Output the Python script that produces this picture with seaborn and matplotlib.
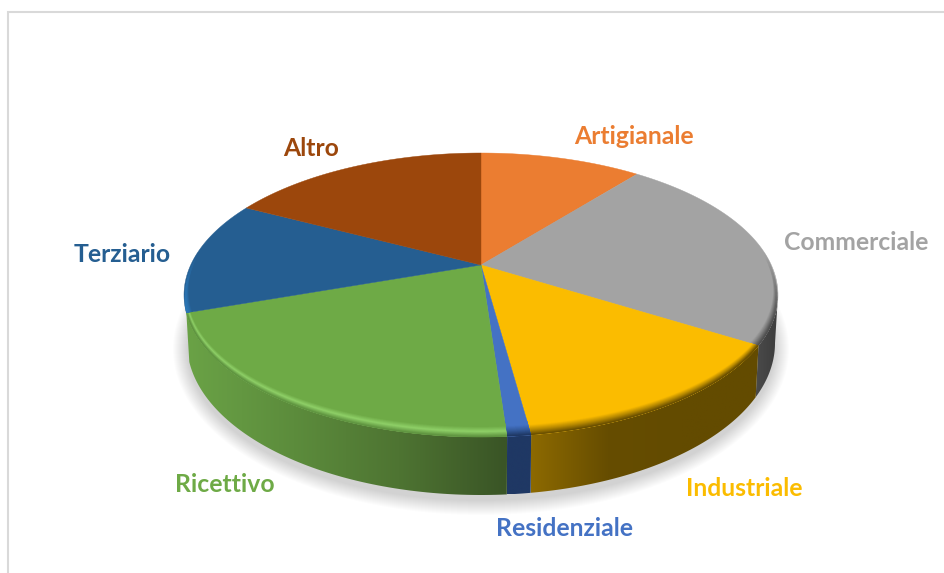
import matplotlib
matplotlib.use('Agg')
import matplotlib.pyplot as plt
from matplotlib.patches import Ellipse, Polygon
import numpy as np
import seaborn as sns

# pie data (percent shares, clockwise from the top)
categories = ['Artigianale', 'Commerciale', 'Industriale', 'Residenziale',
              'Ricettivo', 'Terziario', 'Altro']
shares = [8.8, 22.0, 16.5, 1.3, 24.4, 12.5, 14.5]

# styles
face_colors = ['#EB7D31', '#A3A3A3', '#FBBC00', '#4472C4', '#6EAA46', '#255E91', '#9C470C']
wall_colors = [['#8a4a1c', '#8a4a1c'], ['#4a4a4a', '#3c3c3c'], ['#8c6900', '#664d00', '#634b00', '#634b00'],
               ['#1f3864', '#1f3864'], ['#6aa246', '#5c8c3c', '#4e7432', '#3a5526'],
               ['#163a59', '#163a59'], ['#5e2b08', '#5e2b08']]
bevel_colors = [['#EB7D31', '#EB7D31'], ['#A3A3A3', '#7c7c7c', '#505050'],
                ['#FBBC00', '#FBBC00', '#b88a00', '#6b5000'], ['#4472C4', '#4472C4', '#33599a', '#1f3864'],
                ['#6EAA46', '#6EAA46', '#8fd068', '#5f9440'], ['#255E91', '#2a70ac', '#2a78b8'],
                ['#9C470C', '#9C470C']]
label_xy = [(634, 136), (856, 243), (744, 488), (564, 529), (225, 485), (122, 255), (311, 148)]

# picture geometry: top rim, apex of the slices, bottom rim
CX, CY, RX, RY = 481, 295, 297, 142
APEX_Y = 265
BOT_CY, BOT_RX, BOT_RY = 343, 294, 152


def bevel_width(t):
    front = np.clip((0.3 - np.cos(t)) / 1.3, 0, 1)
    return 1 + 14 * front


def rim(t, inset=0.0):
    w = bevel_width(t) * inset
    return CX + (RX - w) * np.sin(t), CY - (RY - w) * np.cos(t)


def bottom(t):
    return CX + BOT_RX * np.sin(t), BOT_CY + BOT_RY * -np.cos(t)


sns.set_theme(style='white')
fig, ax = plt.subplots(figsize=(9.44, 5.73), dpi=100)
fig.subplots_adjust(0, 0, 1, 1)
ax.axis('off')

# chart frame
ax.plot([8, 8, 944], [573, 12, 12], color='#d9d9d9', lw=1.5, solid_joinstyle='miter')

# soft shadow
for k in np.arange(0, 15, 1.0):
    ax.add_patch(Ellipse((CX, BOT_CY + 6), 2 * (BOT_RX + k), 2 * (BOT_RY + k),
                         color='black', alpha=0.011, lw=0))

edges = np.radians(np.cumsum([0] + shares) / np.sum(shares) * 360)

# side walls, only the front half shows
for i, name in enumerate(categories):
    if edges[i + 1] <= np.pi / 2 or edges[i] > np.pi:
        continue
    t = np.linspace(max(edges[i], np.pi / 2), edges[i + 1], 80)
    xs, ys = rim(t)
    xb, yb = bottom(t)
    pts = np.r_[np.c_[xs, ys], np.c_[xb, yb][::-1]]
    clip = Polygon(pts, closed=True, fc='none', ec='none')
    ax.add_patch(clip)
    img = np.array(sns.blend_palette(wall_colors[i], 64))[None, :, :]
    im = ax.imshow(img, extent=(pts[:, 0].min(), pts[:, 0].max(), pts[:, 1].max(), pts[:, 1].min()),
                   aspect='auto', interpolation='bilinear', zorder=2)
    im.set_clip_path(clip)

# top faces and their rounded edge
for i, name in enumerate(categories):
    t = np.linspace(edges[i], edges[i + 1], 120)
    xs, ys = rim(t)
    pts = np.r_[[[CX, APEX_Y]], np.c_[xs, ys]]
    face = Polygon(pts, closed=True, fc=face_colors[i], ec=face_colors[i], lw=0.3, zorder=3)
    ax.add_patch(face)
    cols = sns.blend_palette(bevel_colors[i], 30)
    for f, c in zip(np.linspace(0, 1, 30), cols):
        # the back has no rounding, outer lines start later so the edge tapers in
        ta = t[np.cos(t) < 0.3 - 0.45 * f]
        if len(ta) < 2:
            continue
        xa, ya = rim(ta, 1 - f)
        ln, = ax.plot(xa, ya, color=c, lw=1.2, zorder=4, solid_capstyle='butt')
        ln.set_clip_path(face)

# labels
for i, name in enumerate(categories):
    ax.text(label_xy[i][0], label_xy[i][1], name, color=face_colors[i], fontsize=17.8,
            fontweight='bold', family='Lato', ha='center', va='center', zorder=6)

ax.set_xlim(0, 944)
ax.set_ylim(573, 0)
fig.savefig('out.png', dpi=100)
plt.close()
